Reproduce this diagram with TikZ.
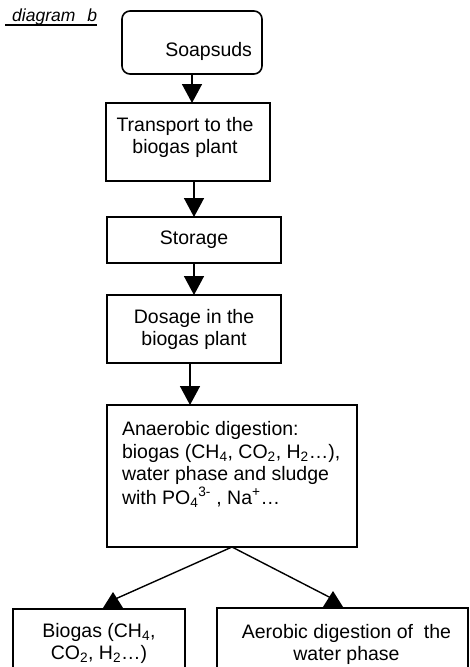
\documentclass[tikz,border=0pt]{standalone}
\usepackage{fontspec}
\setmainfont{Liberation Sans}
\usetikzlibrary{arrows.meta}
\begin{document}
\begin{tikzpicture}[x=1pt,y=-1pt,
  box/.style={draw, line width=1.6pt, inner sep=0pt, outer sep=0pt, anchor=north west,
    font=\fontsize{19.5}{22.5}\selectfont},
  arr/.style={line width=1.6pt, -{Triangle[width=20pt,length=19pt]}},
  thinline/.style={line width=1.4pt},
  headtri/.style={fill=black}]
\useasboundingbox (0,0) rectangle (469,667);
\clip (0,0) rectangle (469,667);

\node[font=\itshape\fontsize{17.5}{20}\selectfont, anchor=base west, inner sep=0pt] (dg) at (5,21)
  {\hspace{7pt}diagram\hspace{12pt}b};
\draw[line width=1.2pt] ([yshift=-4pt]dg.base west) -- ([yshift=-4pt]dg.base east);

\node[box, rounded corners=8pt, minimum width=140pt, text height=45pt, text depth=18pt] (soap) at (122,11)
  {\makebox[140pt][r]{Soapsuds\hspace{10pt}}};

\node[box, minimum width=164pt, text height=50.5pt, text depth=27.5pt] (trans) at (106,103)
  {\makebox[164pt][c]{\begin{tabular}[b]{@{}c@{\hspace{6pt}}}Transport to the\\biogas plant\end{tabular}}};

\node[box, minimum width=174pt, text height=27pt, text depth=19pt] (storage) at (107,217)
  {\makebox[174pt][c]{Storage}};

\node[box, minimum width=174pt, text height=50.5pt, text depth=17.5pt] (dosage) at (107,295)
  {\makebox[174pt][c]{\begin{tabular}[b]{@{}c@{}}Dosage in the\\biogas plant\end{tabular}}};

\node[box, minimum width=250pt, text height=99.5pt, text depth=42.5pt] (anaer) at (107,405)
  {\makebox[250pt][l]{\hspace{15pt}\begin{tabular}[b]{@{}l@{}}Anaerobic digestion:\\
   biogas (CH\textsubscript{4}, CO\textsubscript{2}, H\textsubscript{2}…),\\
   water phase and sludge\\
   with PO\textsubscript{4}\textsuperscript{3-} , Na\textsuperscript{+}…\end{tabular}}};

\node[box, minimum width=172pt, text height=50.5pt, text depth=40.5pt] (biogas) at (13,609)
  {\makebox[172pt][c]{\begin{tabular}[b]{@{}c@{}}Biogas (CH\textsubscript{4},\\CO\textsubscript{2}, H\textsubscript{2}…)\end{tabular}}};

\node[box, minimum width=251pt, text height=52.5pt, text depth=39.5pt] (aerob) at (217,608)
  {\makebox[251pt][c]{\begin{tabular}[b]{@{\hspace{8pt}}c@{}}Aerobic digestion of\ \ the\\water phase\end{tabular}}};

\draw[arr] (soap.south) -- (soap.south |- trans.north);
\draw[arr] (storage.north |- trans.south) -- (storage.north);
\draw[arr] (storage.south) -- (dosage.north);
\coordinate (d1) at ([xshift=-4pt]dosage.south);
\draw[arr] (d1) -- (d1 |- anaer.north);

\coordinate (tl) at (113,600);
\coordinate (tr) at (333,599);
\draw[thinline] (anaer.south) -- (tl);
\draw[thinline] (anaer.south) -- (tr);
\fill[headtri] (102,609.5) -- (124,609.5) -- (113,592) -- cycle;
\fill[headtri] (322,608.5) -- (344,608.5) -- (333,591) -- cycle;
\end{tikzpicture}
\end{document}
